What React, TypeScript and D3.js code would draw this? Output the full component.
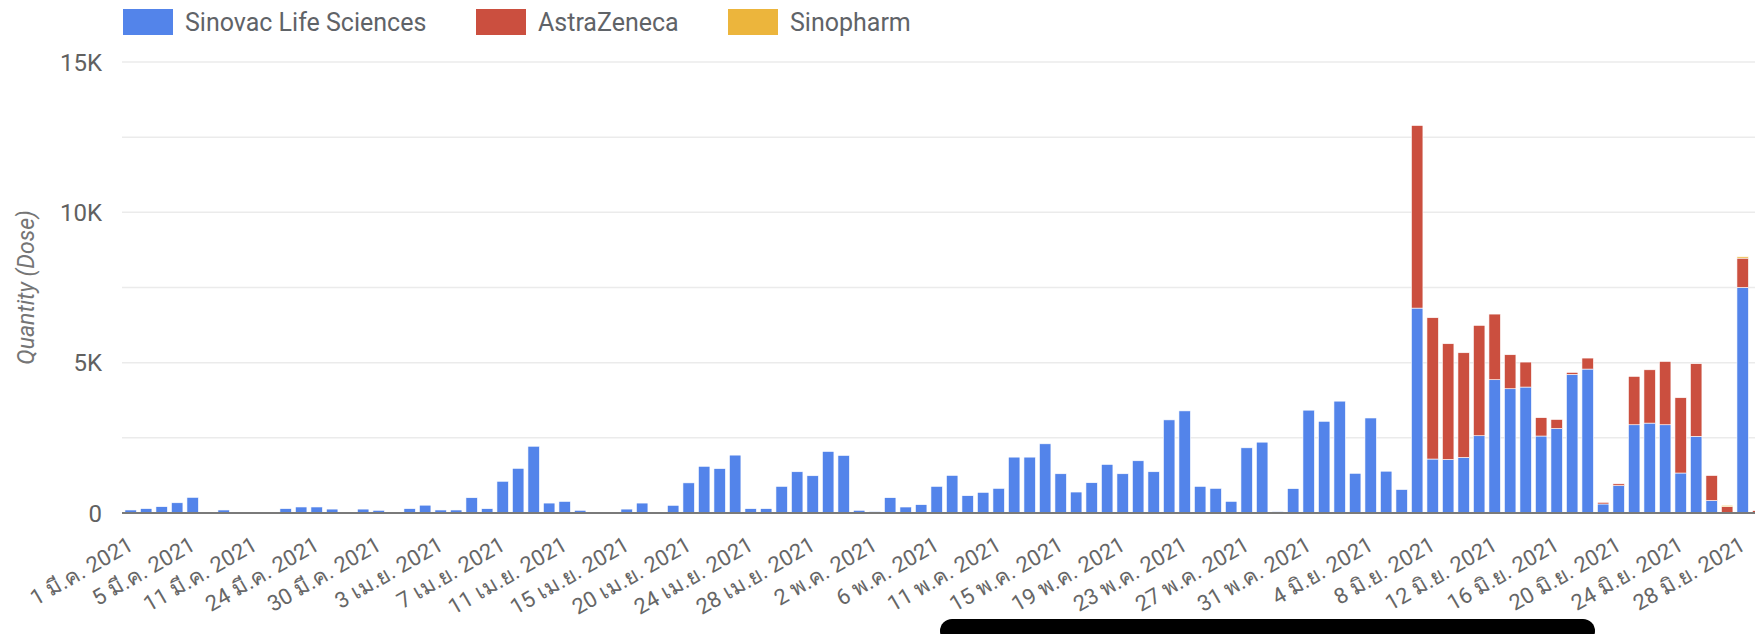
import React from "react";
import * as d3 from "d3";

// Category dates (days present in the data, 2021)
const marDays = [1, 2, 3, 4, 5, 8, 9, 10, 11, 12, 16, 23, 24, 25, 26, 29, 30, 31];
const aprDays = [1, 2, 3, 4, 5, 6, 7, 8, 9, 10, 11, 12, 13, 14, 15, 16, 17, 19, 20, 21, 22, 23, 24, 25, 26, 27, 28, 29, 30];
const mayDays = [1, 2, 3, 4, 5, 6, 7, 8, 10, 11, 12, 13, 14, 15, 16, 17, 18, 19, 20, 21, 22, 23, 24, 25, 26, 27, 28, 29, 30, 31];
const junDays = [1, 2, 3, 4, 5, 6, 7, 8, 9, 10, 11, 12, 13, 14, 15, 16, 17, 18, 19, 20, 21, 22, 23, 24, 25, 26, 27, 28, 29];
const monthNames = ["มี.ค.", "เม.ย.", "พ.ค.", "มิ.ย."];

const categories: string[] = [
  ...marDays.map((d) => `${d} ${monthNames[0]} 2021`),
  ...aprDays.map((d) => `${d} ${monthNames[1]} 2021`),
  ...mayDays.map((d) => `${d} ${monthNames[2]} 2021`),
  ...junDays.map((d) => `${d} ${monthNames[3]} 2021`),
];

const seriesNames = ["Sinovac Life Sciences", "AstraZeneca", "Sinopharm"];

const sinovac = [
  100, 145, 210, 340, 520, 0, 100, 0, 30, 10,
  145, 200, 200, 130, 0, 130, 90, 0, 145, 260,
  100, 100, 508, 143, 1055, 1485, 2220, 330, 385, 90,
  0, 0, 130, 330, 20, 255, 1002, 1553, 1476, 1925,
  144, 144, 885, 1372, 1239, 2046, 1914, 90, 45, 509,
  199, 277, 885, 1250, 575, 686, 819, 1858, 1858, 2301,
  1305, 697, 1007, 1615, 1305, 1737, 1372, 3097, 3396, 885,
  819, 387, 2168, 2356, 44, 810, 3420, 3050, 3720, 1320,
  3160, 1390, 780, 6815, 1795, 1780, 1850, 2570, 4433, 4133,
  4189, 2560, 2810, 4610, 4787, 300, 910, 2935, 2990, 2935,
  1330, 2550, 415, 0, 7502, 0,
];

const astraZeneca = [
  0, 0, 0, 0, 0, 0, 0, 0, 0, 0,
  0, 0, 0, 0, 0, 0, 0, 0, 0, 0,
  0, 0, 0, 0, 0, 0, 0, 0, 0, 0,
  0, 0, 0, 0, 0, 0, 0, 0, 0, 0,
  0, 0, 0, 0, 0, 0, 0, 0, 0, 0,
  0, 0, 0, 0, 0, 0, 0, 0, 0, 0,
  0, 0, 0, 0, 0, 0, 0, 0, 0, 0,
  0, 0, 0, 0, 0, 0, 0, 0, 0, 0,
  0, 0, 0, 6073, 4700, 3850, 3480, 3670, 2183, 1131,
  831, 610, 300, 66, 366, 55, 60, 1608, 1773, 2105,
  2504, 2415, 831, 210, 975, 78,
];

const sinopharm = [
  0, 0, 0, 0, 0, 0, 0, 0, 0, 0,
  0, 0, 0, 0, 0, 0, 0, 0, 0, 0,
  0, 0, 0, 0, 0, 0, 0, 0, 0, 0,
  0, 0, 0, 0, 0, 0, 0, 0, 0, 0,
  0, 0, 0, 0, 0, 0, 0, 0, 0, 0,
  0, 0, 0, 0, 0, 0, 0, 0, 0, 0,
  0, 0, 0, 0, 0, 0, 0, 0, 0, 0,
  0, 0, 0, 0, 0, 0, 0, 0, 0, 0,
  0, 0, 0, 0, 0, 0, 0, 0, 0, 0,
  0, 0, 0, 0, 0, 0, 0, 0, 0, 0,
  0, 0, 0, 44, 45, 0,
];

const yTickValues = [0, 5000, 10000, 15000];
const yTickLabels = ["0", "5K", "10K", "15K"];
const gridValues = [2500, 5000, 7500, 10000, 12500, 15000];

const COLORS = ["#5384EA", "#CB4F3F", "#ECB53C"];
const FONT = "Roboto, 'Noto Sans', 'DejaVu Sans', sans-serif";

export default function App() {
  const W = 1755;
  const H = 634;

  const x = d3
    .scaleBand<string>()
    .domain(categories)
    .range([122, 1766.86])
    .paddingInner(0.26)
    .paddingOuter(0.19);

  const y = d3.scaleLinear().domain([0, 15000]).range([513, 62]);

  const rows = categories.map((c, i) => ({
    cat: c,
    [seriesNames[0]]: sinovac[i],
    [seriesNames[1]]: astraZeneca[i],
    [seriesNames[2]]: sinopharm[i],
  }));

  const stack = d3.stack<any>().keys(seriesNames);
  const layers = stack(rows as any);

  const legendX = [123, 476, 728];

  return (
    <svg
      width={W}
      height={H}
      style={{ position: "absolute", left: 0, top: 0, background: "#fff" }}
      fontFamily={FONT}
    >
      <rect x={0} y={0} width={W} height={H} fill="#fff" />
      {/* Legend */}
      {seriesNames.map((s, i) => (
        <g key={s}>
          <rect x={legendX[i]} y={9} width={50} height={26} fill={COLORS[i]} />
          <text x={legendX[i] + 62} y={31} fontSize={25} fill="#5f6368">
            {s}
          </text>
        </g>
      ))}

      {/* Gridlines */}
      {gridValues.map((v) => (
        <line key={v} x1={122} x2={W} y1={y(v)} y2={y(v)} stroke="#ebebeb" strokeWidth={1.5} />
      ))}

      {/* Y axis labels */}
      {yTickValues.map((v, i) => (
        <text
          key={v}
          x={102}
          y={y(v)}
          dy="0.36em"
          textAnchor="end"
          fontSize={24}
          fill="#616161"
        >
          {yTickLabels[i]}
        </text>
      ))}

      {/* Y axis title */}
      <text
        transform={`translate(34, ${(y(0) + y(15000)) / 2}) rotate(-90)`}
        textAnchor="middle"
        fontSize={23}
        fontStyle="italic"
        fill="#757575"
      >
        Quantity (Dose)
      </text>

      {/* Bars */}
      {layers.map((layer, li) => (
        <g key={seriesNames[li]} fill={COLORS[li]}>
          {layer.map((d: any, i: number) => {
            const h = y(d[0]) - y(d[1]);
            if (h <= 0) return null;
            return (
              <rect
                key={i}
                x={x(categories[i])}
                y={y(d[1])}
                width={x.bandwidth()}
                height={h}
                stroke="#ffffff"
                strokeWidth={0.6}
              />
            );
          })}
        </g>
      ))}

      {/* Baseline */}
      <line x1={122} x2={W} y1={y(0)} y2={y(0)} stroke="#7a7a7a" strokeWidth={2} />

      {/* X tick labels */}
      {categories.map((c, i) =>
        i % 4 === 0 ? (
          <text
            key={c}
            transform={`translate(${(x(c) as number) + x.bandwidth() / 2 + 4}, 549) rotate(-30)`}
            textAnchor="end"
            fontSize={22}
            fill="#666666"
          >
            {c}
          </text>
        ) : null
      )}

      {/* Bottom black pill */}
      <rect x={940} y={619} width={655} height={24} rx={12} fill="#000" />
    </svg>
  );
}
